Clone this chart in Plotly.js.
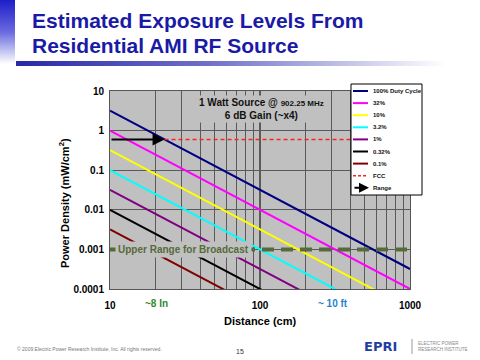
<!DOCTYPE html>
<html><head><meta charset="utf-8">
<script src="https://cdn.plot.ly/plotly-3.0.1.min.js"></script>
<style>
html,body{margin:0;padding:0;background:#fff;}
#chart{width:480px;height:360px;position:absolute;left:0;top:0;}
#vbar{position:absolute;left:0;top:0;width:15px;height:64px;background:linear-gradient(to bottom,#1e1ec8 0%,#6a6ae0 50%,#ffffff 100%);}
#hbar{position:absolute;left:16px;top:61px;width:430px;height:5px;background:linear-gradient(to right,#2828a8 0%,#7070c8 45%,#ffffff 100%);}
</style></head><body>
<div id="chart"></div><div id="vbar"></div><div id="hbar"></div>
<script>
// ---- data ----
const distance = [10, 1000];
const seriesNames = ['100% Duty Cycle', '32%', '10%', '3.2%', '1%', '0.32%', '0.1%'];
const density100 = [3.2, 0.00032];
const density32 = [1.0, 0.0001];
const density10 = [0.32, 0.000032];
const density3_2 = [0.1, 0.00001];
const density1 = [0.032, 0.0000032];
const density0_32 = [0.01, 0.000001];
const density0_1 = [0.0032, 0.00000032];
const fccX = [23.1, 1000];
const fccY = [0.6, 0.6];
const broadcastX = [10, 1000];
const broadcastY = [0.001, 0.001];
const rangeX = [10, 23.1];
const rangeY = 0.6;
const xTickVals = [10, 20, 30, 40, 50, 60, 70, 80, 90, 100, 200, 300, 400, 500, 600, 700, 800, 900, 1000];
const xTickText = ['10', '', '', '', '', '', '', '', '', '100', '', '', '', '', '', '', '', '', '1000'];
const yTickVals = [0.0001, 0.001, 0.01, 0.1, 1, 10];
const yTickText = ['0.0001', '0.001', '0.01', '0.1', '1', '10'];
const eightInchCm = 20.3;
const tenFeetCm = 305;

// ---- styling ----
const seriesData = [density100, density32, density10, density3_2, density1, density0_32, density0_1];
const seriesColors = ['#000080', '#ff00ff', '#ffff00', '#00ffff', '#800080', '#000000', '#800000'];
const FONT = 'Liberation Sans, Arial, sans-serif';
const L = 110, R = 410, T = 91, B = 289;
const px = x => (x - L) / (R - L);
const py = y => (B - y) / (B - T);

const traces = seriesNames.map((n, i) => ({
  x: distance, y: seriesData[i], mode: 'lines', name: n,
  line: {color: seriesColors[i], width: 2}, showlegend: false, hoverinfo: 'skip'
}));
traces.push({x: fccX, y: fccY, mode: 'lines', name: 'FCC',
  line: {color: '#ff2020', width: 1.5, dash: '4px,3px'}, showlegend: false});
traces.push({x: broadcastX, y: broadcastY, mode: 'lines', name: 'Upper Range for Broadcast',
  line: {color: '#566a3a', width: 4, dash: '12px,7px'}, showlegend: false});

const shapes = [];
const annotations = [];
function txt(text, xp, yp, size, color, opts) {
  return Object.assign({x: px(xp), y: py(yp), xref: 'paper', yref: 'paper', xanchor: 'center', yanchor: 'middle',
    showarrow: false, text: text, font: {family: FONT, size: size, color: color}}, opts || {});
}

// title
annotations.push(txt('Estimated Exposure Levels From', 30, 21, 21, '#1c1ca0', {xanchor: 'left', font: {family: FONT, size: 21, weight: 700, color: '#1a1aa6'}}));
annotations.push(txt('Residential AMI RF Source', 30, 46, 21, '#1c1ca0', {xanchor: 'left', font: {family: FONT, size: 21, weight: 700, color: '#1a1aa6'}}));

// axis titles
annotations.push(txt('Distance (cm)', 260, 321, 11, '#000', {font: {family: FONT, size: 11, weight: 700, color: '#000'}}));
annotations.push(txt('Power Density (mW/cm<sup>2</sup>)', 64, 203, 11, '#000', {textangle: -90, font: {family: FONT, size: 11, weight: 700, color: '#000'}}));

// Range arrow
annotations.push({x: Math.log10(rangeX[1]), y: Math.log10(rangeY), ax: Math.log10(rangeX[0]), ay: Math.log10(rangeY),
  xref: 'x', yref: 'y', axref: 'x', ayref: 'y', text: '', showarrow: true,
  arrowhead: 2, arrowsize: 1.2, arrowwidth: 2, arrowcolor: '#000'});

// plot text
annotations.push({x: 2.013, y: py(108.5), xref: 'x', yref: 'paper', xanchor: 'center', yanchor: 'middle', showarrow: false,
  text: '1 Watt Source @ <span style="font-size:8px">902.25 MHz</span><br>6 dB Gain (~x4)',
  font: {family: FONT, size: 10, weight: 700, color: '#111'}, bgcolor: '#c0c0c0', borderpad: 1});
annotations.push({x: 1.487, y: Math.log10(broadcastY[0]), xref: 'x', yref: 'y', xanchor: 'center', yanchor: 'middle', showarrow: false,
  text: 'Upper Range for Broadcast',
  font: {family: FONT, size: 10, weight: 700, color: '#566a3a'}, bgcolor: '#c0c0c0', borderpad: 2});
annotations.push({x: Math.log10(eightInchCm), y: py(303), xref: 'x', yref: 'paper', xanchor: 'center', yanchor: 'middle', showarrow: false,
  text: '~8 In', font: {family: FONT, size: 10, weight: 700, color: '#2e8b2e'}});
annotations.push({x: Math.log10(tenFeetCm), y: py(303), xref: 'x', yref: 'paper', xanchor: 'center', yanchor: 'middle', showarrow: false,
  text: '~ 10 ft', font: {family: FONT, size: 10, weight: 700, color: '#2a82d0'}});

// custom legend
shapes.push({type: 'rect', xref: 'paper', yref: 'paper', x0: px(351), x1: px(422), y0: py(84), y1: py(195),
  fillcolor: '#ffffff', line: {color: '#000', width: 1}, layer: 'above'});
const legendNames = seriesNames.concat(['FCC', 'Range']);
legendNames.forEach((n, i) => {
  const yr = 91 + 12.1 * i;
  const yy = py(yr);
  if (i < seriesNames.length) {
    shapes.push({type: 'line', xref: 'paper', yref: 'paper', x0: px(353), x1: px(368), y0: yy, y1: yy,
      line: {color: seriesColors[i], width: 2}, layer: 'above'});
  } else if (n === 'FCC') {
    shapes.push({type: 'line', xref: 'paper', yref: 'paper', x0: px(353), x1: px(368), y0: yy, y1: yy,
      line: {color: '#ff2020', width: 1.5, dash: '3px,2px'}, layer: 'above'});
  } else {
    annotations.push({x: px(369), y: yy, ax: px(353), ay: yy, xref: 'paper', yref: 'paper', axref: 'paper', ayref: 'paper',
      text: '', showarrow: true, arrowhead: 2, arrowsize: 1, arrowwidth: 2, arrowcolor: '#000'});
  }
  annotations.push(txt(n, 371, yr, 6, '#111', {xanchor: 'left', font: {family: FONT, size: 6, weight: 700, color: '#111'}}));
});

// footer
annotations.push(txt('© 2009 Electric Power Research Institute, Inc. All rights reserved.', 15, 349, 5, '#777', {xanchor: 'left'}));
annotations.push(txt('15', 240, 351, 7, '#333'));
annotations.push(txt('EPRI', 362, 346, 13, '#1f3f9f', {xanchor: 'left', font: {family: 'DejaVu Sans, sans-serif', size: 13, weight: 700, color: '#1f3f9f'}}));
shapes.push({type: 'line', xref: 'paper', yref: 'paper', x0: px(412), x1: px(412), y0: py(339), y1: py(354),
  line: {color: '#999', width: 1}});
annotations.push(txt('ELECTRIC POWER<br>RESEARCH INSTITUTE', 416, 346, 4.5, '#888', {xanchor: 'left', align: 'left'}));

const layout = {
  width: 480, height: 360,
  margin: {l: L, r: 480 - R, t: T, b: 360 - B},
  paper_bgcolor: 'rgba(0,0,0,0)', plot_bgcolor: '#c0c0c0',
  showlegend: false,
  xaxis: {type: 'log', range: [1, 3], tickvals: xTickVals, ticktext: xTickText,
    showgrid: true, gridcolor: '#5a5a5a', gridwidth: 1.2, zeroline: false,
    showline: true, linecolor: '#555', linewidth: 1, mirror: true, ticks: '', ticklabelstandoff: 7,
    tickfont: {family: FONT, size: 10, weight: 700, color: '#000'}},
  yaxis: {type: 'log', range: [-4, 1], tickvals: yTickVals, ticktext: yTickText,
    showgrid: true, gridcolor: '#5a5a5a', gridwidth: 1.2, zeroline: false,
    showline: true, linecolor: '#555', linewidth: 1, mirror: true, ticks: '', ticklabelstandoff: 3,
    tickfont: {family: FONT, size: 10, weight: 700, color: '#000'}},
  shapes: shapes, annotations: annotations
};
Plotly.newPlot('chart', traces, layout, {displayModeBar: false, staticPlot: true});
</script>
</body></html>
